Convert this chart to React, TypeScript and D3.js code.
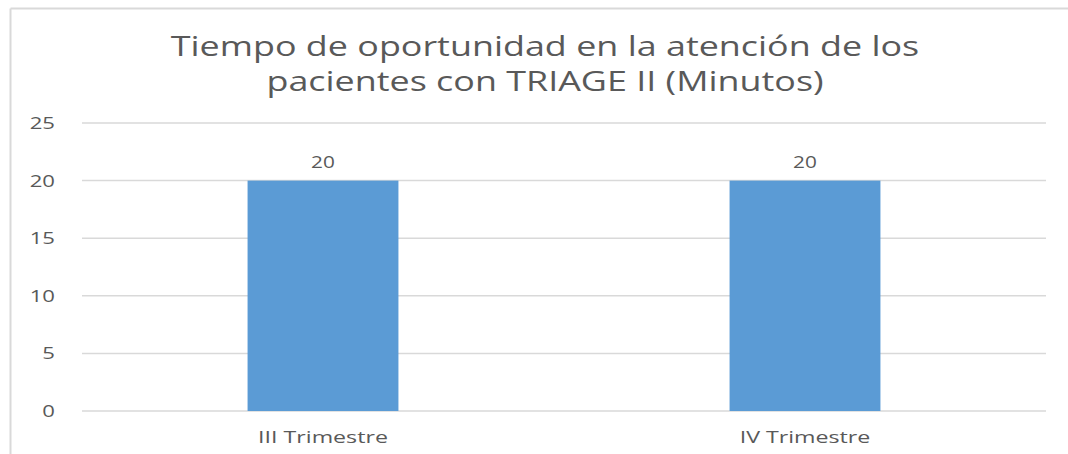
import React from "react";
import * as d3 from "d3";

const categories = ["III Trimestre", "IV Trimestre"];
const values = [20, 20];
const yTicks = [0, 5, 10, 15, 20, 25];
const titleLines = [
  "Tiempo de oportunidad en la atención de los",
  "pacientes con TRIAGE II (Minutos)",
];

export default function App() {
  const W = 1068;
  const H = 454;
  const left = 82;
  const right = 1046;
  const top = 123;
  const bottom = 411;
  const font = "'Open Sans', 'DejaVu Sans', sans-serif";
  const textColor = "#595959";
  const sx = 1.38;

  const x = d3
    .scaleBand<string>()
    .domain(categories)
    .range([left, right])
    .paddingInner(0.687)
    .paddingOuter(0.3435);
  const y = d3.scaleLinear().domain([0, 25]).range([bottom, top]);

  const Stretched = ({
    tx,
    ty,
    anchor,
    size,
    s,
    children,
  }: {
    tx: number;
    ty: number;
    anchor: string;
    size: number;
    s: number;
    children: React.ReactNode;
  }) => (
    <text
      transform={`translate(${tx},${ty}) scale(${s},1)`}
      textAnchor={anchor}
      fontFamily={font}
      fontSize={size}
      fill={textColor}
    >
      {children}
    </text>
  );

  return (
    <svg
      width={W}
      height={H}
      style={{ position: "absolute", left: 0, top: 0, background: "#fff" }}
    >
      <line x1={10.5} y1={8.5} x2={W} y2={8.5} stroke="#d9d9d9" strokeWidth={2} />
      <line x1={10.5} y1={8.5} x2={10.5} y2={H} stroke="#d9d9d9" strokeWidth={2} />
      {titleLines.map((t, i) => (
        <Stretched key={i} tx={545} ty={56 + i * 35} anchor="middle" size={27} s={1.33}>
          {t}
        </Stretched>
      ))}
      {yTicks.map((t) => (
        <g key={t}>
          <line
            x1={left}
            x2={right}
            y1={y(t)}
            y2={y(t)}
            stroke="#d9d9d9"
            strokeWidth={1.5}
          />
          <Stretched tx={55} ty={y(t) + 6} anchor="end" size={16} s={sx}>
            {t}
          </Stretched>
        </g>
      ))}
      {categories.map((c, i) => (
        <g key={c}>
          <rect
            x={x(c)}
            y={y(values[i])}
            width={x.bandwidth()}
            height={y(0) - y(values[i])}
            fill="#5B9BD5"
          />
          <Stretched
            tx={(x(c) as number) + x.bandwidth() / 2}
            ty={y(values[i]) - 13}
            anchor="middle"
            size={16}
            s={1.3}
          >
            {values[i]}
          </Stretched>
          <Stretched
            tx={(x(c) as number) + x.bandwidth() / 2}
            ty={y(0) + 32}
            anchor="middle"
            size={16}
            s={1.45}
          >
            {c}
          </Stretched>
        </g>
      ))}
    </svg>
  );
}
